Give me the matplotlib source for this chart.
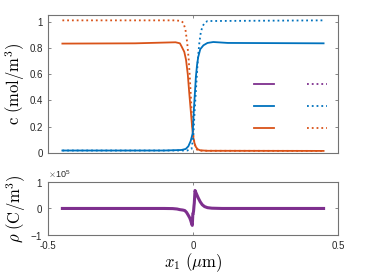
import matplotlib
matplotlib.use("Agg")
import matplotlib.pyplot as plt
from matplotlib.lines import Line2D

plt.rcParams['font.family'] = ['Liberation Sans', 'DejaVu Sans']
plt.rcParams['mathtext.fontset'] = 'cm'
plt.rcParams['axes.unicode_minus'] = False

# concentrations, x in um
x_os = [-0.45, -0.2, -0.06, -0.045, -0.039, -0.03, -0.024, -0.018, -0.013, -0.008, -0.003,
        0.001, 0.005, 0.01, 0.016, 0.024, 0.05, 0.45]
c_os = [0.833, 0.835, 0.843, 0.835, 0.81, 0.77, 0.71, 0.60, 0.46, 0.33, 0.20,
        0.12, 0.076, 0.045, 0.028, 0.02, 0.016, 0.015]

x_od = [-0.45, -0.06, -0.04, -0.033, -0.026, -0.02, -0.015, -0.011, -0.008, -0.005, -0.002,
        0.002, 0.006, 0.009, 0.015, 0.03, 0.45]
c_od = [1.01, 1.01, 1.005, 0.99, 0.94, 0.84, 0.72, 0.58, 0.46, 0.33, 0.21,
        0.12, 0.065, 0.04, 0.022, 0.016, 0.015]

x_bs = [-0.45, -0.1, -0.04, -0.025, -0.016, -0.008, -0.001, 0.003, 0.007, 0.01, 0.014,
        0.018, 0.025, 0.036, 0.05, 0.07, 0.12, 0.45]
c_bs = [0.018, 0.018, 0.022, 0.03, 0.05, 0.09, 0.15, 0.33, 0.47, 0.58, 0.67,
        0.73, 0.79, 0.82, 0.838, 0.845, 0.838, 0.835]

x_bd = [-0.45, -0.02, -0.005, 0.001, 0.006, 0.01, 0.013, 0.017, 0.022, 0.027, 0.033,
        0.04, 0.05, 0.45]
c_bd = [0.018, 0.018, 0.03, 0.12, 0.33, 0.47, 0.58, 0.72, 0.84, 0.92, 0.965,
        0.99, 1.005, 1.01]

# charge density (C/m^3)
x_rho = [-0.45, -0.1, -0.07, -0.055, -0.045, -0.035, -0.028, -0.022, -0.016, -0.011, -0.008,
         -0.005, -0.0024, -0.0005, 0.0005, 0.002, 0.0035, 0.0045, 0.007, 0.012, 0.018,
         0.025, 0.032, 0.04, 0.05, 0.065, 0.1, 0.45]
rho = [0, 0, -500, -2000, -4500, -6000, -8000, -15000, -26000, -36000, -45000,
       -56000, -64000, -20000, -20000, -10000, 10000, 20000, 68000, 55000, 40000,
       25000, 14000, 7000, 3000, 1000, 0, 0]

blue = '#0072BD'
orange = '#D95319'
purple = '#7E2F8E'
axcol = '0.45'
txtcol = '#262626'

fig = plt.figure(figsize=(3.74, 2.8), dpi=100)
ax1 = fig.add_axes([0.128, 0.454, 0.776, 0.492])
ax2 = fig.add_axes([0.128, 0.161, 0.776, 0.189])

ax1.plot(x_os, c_os, color=orange, lw=1.3)
ax1.plot(x_od, c_od, color=orange, lw=1.3, ls=':')
ax1.plot(x_bs, c_bs, color=blue, lw=1.3)
ax1.plot(x_bd, c_bd, color=blue, lw=1.3, ls=':')
ax1.set_xlim(-0.5, 0.5)
ax1.set_ylim(0, 1.05)
ax1.set_xticks([-0.5, 0, 0.5])
ax1.set_xticklabels([])
ax1.set_yticks([0, 0.2, 0.4, 0.6, 0.8, 1])
ax1.set_yticklabels(['0', '0.2', '0.4', '0.6', '0.8', '1'])
ax1.set_ylabel(r'$\mathrm{c}\ (\mathrm{mol/m^3})$', fontsize=12, labelpad=2)

handles = [Line2D([], [], color=purple, lw=1.3),
           Line2D([], [], color=blue, lw=1.3),
           Line2D([], [], color=orange, lw=1.3),
           Line2D([], [], color=purple, lw=1.3, ls=':'),
           Line2D([], [], color=blue, lw=1.3, ls=':'),
           Line2D([], [], color=orange, lw=1.3, ls=':')]
ax1.legend(handles, [' '] * 6, ncol=2, frameon=False, fontsize=8,
           handlelength=1.8, handletextpad=0.8, columnspacing=1.9,
           labelspacing=1.05, loc='center', bbox_to_anchor=(0.858, 0.333))

ax2.plot(x_rho, rho, color=purple, lw=2.2)
ax2.set_xlim(-0.5, 0.5)
ax2.set_ylim(-1e5, 1e5)
ax2.set_xticks([-0.5, 0, 0.5])
ax2.set_xticklabels(['-0.5', '0', '0.5'])
ax2.set_yticks([-1e5, 0, 1e5])
ax2.ticklabel_format(axis='y', style='sci', scilimits=(0, 0), useMathText=True)
ax2.yaxis.get_offset_text().set_fontsize(6.5)
ax2.yaxis.get_offset_text().set_color(txtcol)
ax2.set_ylabel(r'$\rho\ (\mathrm{C/m^3})$', fontsize=12, labelpad=2)
ax2.set_xlabel(r'$x_1\ (\mu\mathrm{m})$', fontsize=12, labelpad=0)

for ax in (ax1, ax2):
    for s in ax.spines.values():
        s.set_color(axcol)
        s.set_linewidth(0.8)
    ax.tick_params(direction='in', length=2.5, width=0.6, color=axcol,
                   labelsize=7, labelcolor=txtcol, top=True, right=True, pad=3.5)
ax2.tick_params(axis='x', pad=4.5)

fig.savefig('out.png', dpi=100)
